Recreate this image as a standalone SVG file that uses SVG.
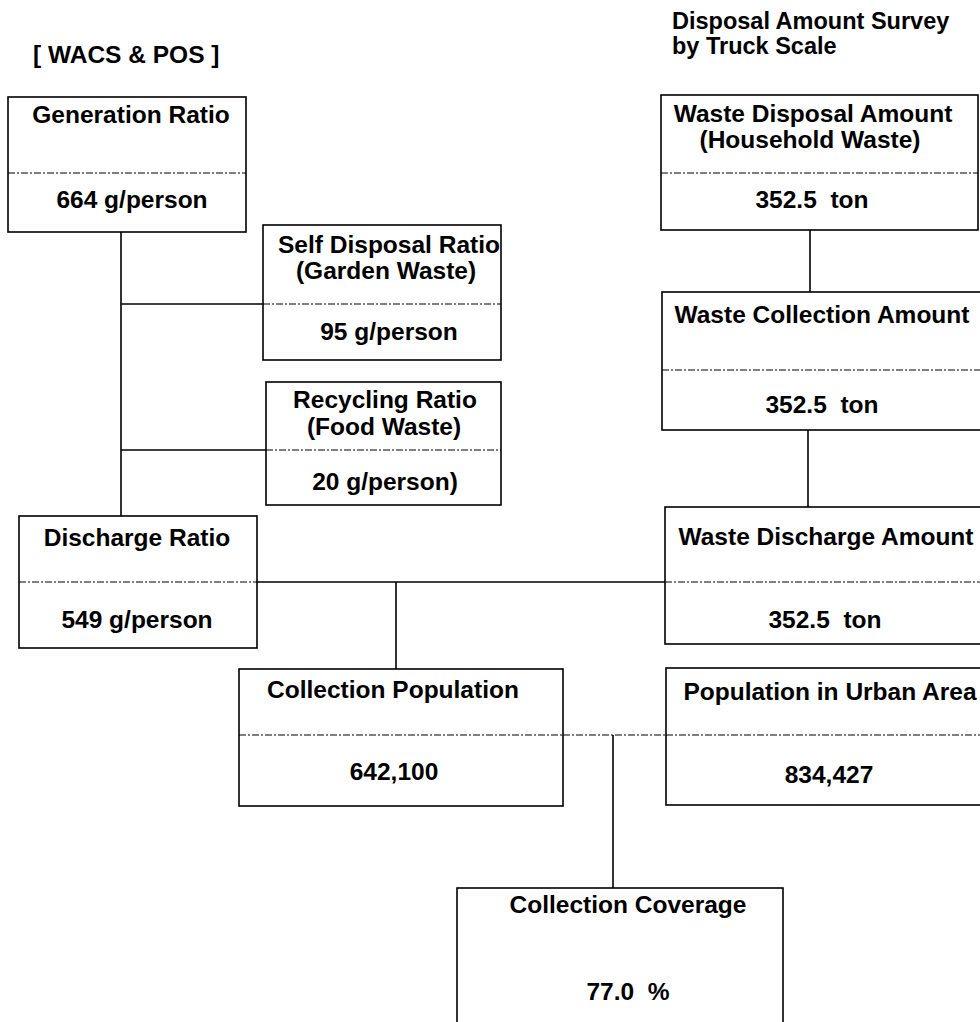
<svg xmlns="http://www.w3.org/2000/svg" width="980" height="1022" viewBox="0 0 980 1022">
  <style>
    .box { fill: #fff; stroke: #000; stroke-width: 1.6; }
    .div { stroke: #000; stroke-width: 1.1; stroke-dasharray: 7 2 2 2; fill: none; }
    .link { stroke: #000; stroke-width: 1.6; fill: none; }
    .dlink { stroke: #000; stroke-width: 1.1; stroke-dasharray: 7 2 2 2; fill: none; }
    text { font-family: "Liberation Sans", Arial, sans-serif; font-weight: bold; font-size: 24.5px; fill: #000; }
    .head { font-size: 23.5px; }
    .c { text-anchor: middle; }
  </style>
  <rect width="980" height="1022" fill="#fff"/>

  <!-- headings -->
  <text x="33" y="63">[ WACS &amp; POS ]</text>
  <text class="head" x="672" y="29">Disposal Amount Survey</text>
  <text class="head" x="672" y="54">by Truck Scale</text>

  <!-- connectors -->
  <g id="connectors">
    <path class="link" d="M121 232 V516"/>
    <path class="link" d="M121 304 H263"/>
    <path class="link" d="M121 450 H266"/>
    <path class="link" d="M810 230 V292"/>
    <path class="link" d="M808 430 V507"/>
    <path class="link" d="M257 582 H665"/>
    <path class="link" d="M396 582 V669"/>
    <path class="dlink" d="M563 735 H666"/>
    <path class="link" d="M613 735 V888"/>
  </g>

  <!-- left column -->
  <g id="generation-ratio">
    <rect class="box" x="8" y="97" width="238" height="135"/>
    <path class="div" d="M8 173 H246"/>
    <text class="c" x="131" y="123">Generation Ratio</text>
    <text class="c" x="132" y="208">664 g/person</text>
  </g>

  <g id="self-disposal-ratio">
    <rect class="box" x="263" y="225" width="238" height="135"/>
    <path class="div" d="M263 304 H501"/>
    <text class="c" x="389" y="253">Self Disposal Ratio</text>
    <text class="c" x="386" y="279">(Garden Waste)</text>
    <text class="c" x="389" y="340">95 g/person</text>
  </g>

  <g id="recycling-ratio">
    <rect class="box" x="266" y="382" width="235" height="123"/>
    <path class="div" d="M266 450 H501"/>
    <text class="c" x="385" y="408">Recycling Ratio</text>
    <text class="c" x="384" y="435">(Food Waste)</text>
    <text class="c" x="385" y="490">20 g/person)</text>
  </g>

  <g id="discharge-ratio">
    <rect class="box" x="19" y="516" width="238" height="132"/>
    <path class="div" d="M19 582 H257"/>
    <text class="c" x="137" y="546">Discharge Ratio</text>
    <text class="c" x="137" y="628">549 g/person</text>
  </g>

  <!-- right column -->
  <g id="waste-disposal-amount">
    <rect class="box" x="661" y="95" width="317" height="135"/>
    <path class="div" d="M661 173 H978"/>
    <text class="c" x="813" y="122">Waste Disposal Amount</text>
    <text class="c" x="810" y="148">(Household Waste)</text>
    <text class="c" x="812" y="208" xml:space="preserve">352.5  ton</text>
  </g>

  <g id="waste-collection-amount">
    <rect class="box" x="662" y="292" width="340" height="138"/>
    <path class="div" d="M662 370 H1000"/>
    <text class="c" x="822" y="323">Waste Collection Amount</text>
    <text class="c" x="822" y="413" xml:space="preserve">352.5  ton</text>
  </g>

  <g id="waste-discharge-amount">
    <rect class="box" x="665" y="507" width="340" height="137"/>
    <path class="div" d="M665 582 H1005"/>
    <text class="c" x="826" y="545">Waste Discharge Amount</text>
    <text class="c" x="825" y="628" xml:space="preserve">352.5  ton</text>
  </g>

  <g id="population-urban-area">
    <rect class="box" x="666" y="668" width="340" height="137"/>
    <path class="div" d="M666 735 H1006"/>
    <text class="c" x="830" y="700">Population in Urban Area</text>
    <text class="c" x="829" y="783">834,427</text>
  </g>

  <g id="collection-population">
    <rect class="box" x="239" y="669" width="324" height="137"/>
    <path class="div" d="M239 735 H563"/>
    <text class="c" x="393" y="698">Collection Population</text>
    <text class="c" x="394" y="780">642,100</text>
  </g>

  <g id="collection-coverage">
    <rect class="box" x="457" y="888" width="326" height="150"/>
    <text class="c" x="628" y="913">Collection Coverage</text>
    <text class="c" x="628" y="1000" xml:space="preserve">77.0  %</text>
  </g>
</svg>
